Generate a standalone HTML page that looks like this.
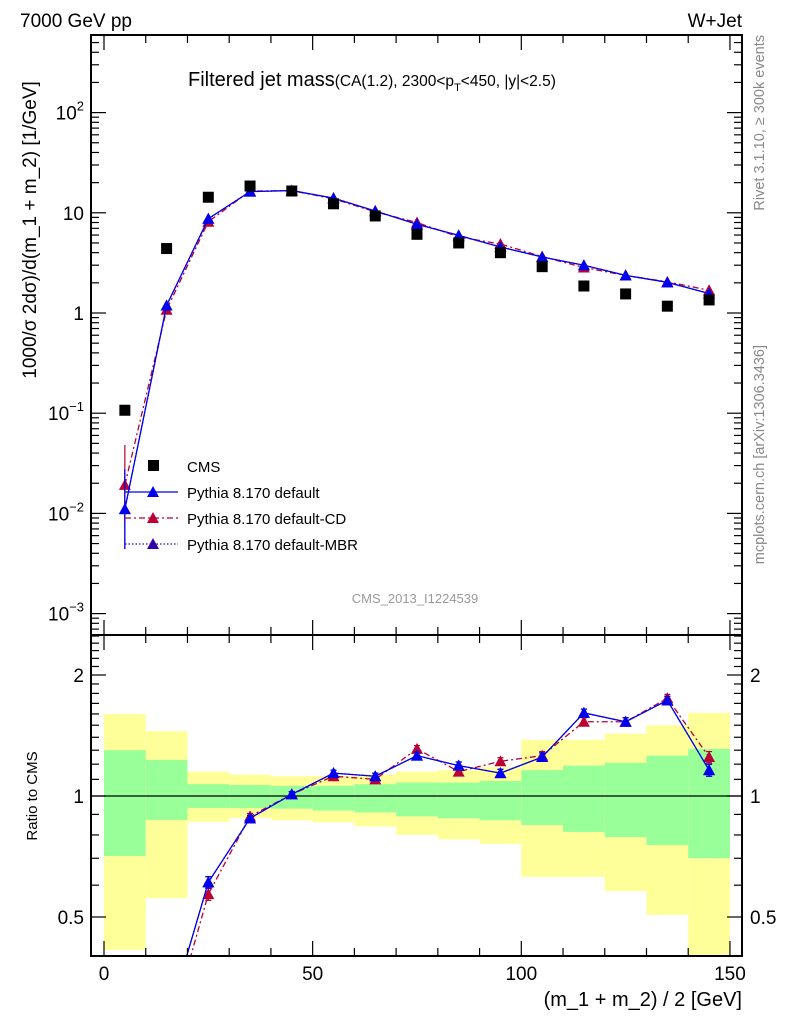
<!DOCTYPE html>
<html><head><meta charset="utf-8"><style>
html,body{margin:0;padding:0;background:#fff;overflow:hidden;width:786px;height:1024px;}
svg{display:block;font-family:"Liberation Sans",sans-serif;}
</style></head><body>
<svg id="c" width="786" height="1024" viewBox="0 0 786 1024" xmlns="http://www.w3.org/2000/svg">
<defs>
<clipPath id="mainClip"><rect x="91" y="35" width="651" height="600"/></clipPath>
<clipPath id="ratioClip"><rect x="91" y="635" width="651" height="321"/></clipPath>
</defs>
<g id="bands" clip-path="url(#ratioClip)"></g>
<g id="marks"></g>
<g id="axes"></g>
<text x="20" y="27" font-size="19">7000 GeV pp</text>
<text x="742" y="27" font-size="19" text-anchor="end">W+Jet</text>
<text x="188" y="86" font-size="20">Filtered jet mass<tspan font-size="15.5">(CA(1.2), 2300&lt;p</tspan><tspan font-size="11" dy="5">T</tspan><tspan font-size="15.5" dy="-5">&lt;450, |y|&lt;2.5)</tspan></text>
<text x="415" y="603" font-size="13" fill="#999" text-anchor="middle">CMS_2013_I1224539</text>
<text transform="translate(36,230) rotate(-90)" font-size="19" text-anchor="middle">1000/σ 2dσ)/d(m_1 + m_2) [1/GeV]</text>
<text transform="translate(37,796) rotate(-90)" font-size="15" text-anchor="middle">Ratio to CMS</text>
<text x="742" y="1006" font-size="20" text-anchor="end">(m_1 + m_2) / 2 [GeV]</text>
<text transform="translate(764,35) rotate(-90)" font-size="14.5" fill="#888" text-anchor="end">Rivet 3.1.10, ≥ 300k events</text>
<text transform="translate(764,345) rotate(-90)" font-size="14.5" fill="#888" text-anchor="end">mcplots.cern.ch [arXiv:1306.3436]</text>
<g id="legend"></g>
</svg>
<script>
const binCenters=[5,15,25,35,45,55,65,75,85,95,105,115,125,135,145];
const cmsValues=[0.107,4.4,14.3,18.5,16.5,12.3,9.3,6.1,5.0,4.0,2.9,1.86,1.55,1.17,1.35];
const ratioDefault=[0.103,0.27,0.61,0.88,1.01,1.14,1.12,1.26,1.19,1.14,1.25,1.61,1.53,1.73,1.16];
const ratioCD=[0.18,0.245,0.57,0.89,1.01,1.12,1.10,1.31,1.15,1.22,1.26,1.53,1.53,1.75,1.25];
const ratioMBR=[0.103,0.27,0.61,0.88,1.01,1.14,1.12,1.26,1.19,1.14,1.25,1.61,1.53,1.73,1.16];
const ratioErr=[0.0,0.01,0.02,0.015,0.015,0.02,0.02,0.025,0.025,0.025,0.03,0.035,0.035,0.04,0.04];
const mainErrFrac=[0.6,0.02,0.02,0.015,0.015,0.02,0.02,0.025,0.025,0.025,0.03,0.03,0.03,0.035,0.035];
const bandYellowHi=[1.60,1.45,1.15,1.13,1.12,1.12,1.13,1.15,1.16,1.18,1.38,1.38,1.43,1.50,1.61];
const bandGreenHi=[1.30,1.23,1.07,1.065,1.06,1.06,1.07,1.08,1.08,1.09,1.16,1.19,1.21,1.26,1.31];
const bandGreenLo=[0.709,0.872,0.933,0.933,0.93,0.92,0.91,0.89,0.88,0.87,0.847,0.814,0.79,0.755,0.70];
const bandYellowLo=[0.414,0.557,0.862,0.882,0.87,0.86,0.84,0.80,0.78,0.76,0.629,0.629,0.58,0.506,0.35];
const xTicks=[0,50,100,150];
const yTickExp=[-3,-2,-1,0,1,2];
const ratioTicks=[0.5,1,2];

const NS="http://www.w3.org/2000/svg";
const X=v=>104+v*4.173;
const Y=v=>313-Math.log10(v)*100.2;
const R=v=>796-Math.log2(v)*121;
function el(tag,attrs,parent){const e=document.createElementNS(NS,tag);for(const k in attrs)e.setAttribute(k,attrs[k]);parent.appendChild(e);return e;}
const bands=document.getElementById('bands'),marks=document.getElementById('marks'),axes=document.getElementById('axes'),legend=document.getElementById('legend');

binCenters.forEach((c,i)=>{
  const x0=X(c-5),w=X(c+5)-X(c-5);
  const y1=el('rect',{x:x0,y:R(bandYellowHi[i]),width:w,height:R(bandYellowLo[i])-R(bandYellowHi[i]),fill:'#ffff99'},bands);
  
  
  const g1=el('rect',{x:x0,y:R(bandGreenHi[i]),width:w,height:R(bandGreenLo[i])-R(bandGreenHi[i]),fill:'#99ff99'},bands);
  
  
});
el('line',{x1:91,x2:742,y1:R(1),y2:R(1),stroke:'#000','stroke-width':1.3},bands);

const mg=el('g',{'clip-path':'url(#mainClip)'},marks);
const rg=el('g',{'clip-path':'url(#ratioClip)'},marks);
function tri(p,x,y,col,name){
  const t=el('path',{d:`M${x-6},${y+5}L${x+6},${y+5}L${x},${y-6}Z`,fill:col},p);
  
  
}
const series=[
 {r:ratioDefault,col:'#0000ee',dash:'',name:'default'},
 {r:ratioCD,col:'#bb0033',dash:'6,3,2,3',name:'cd'},
 {r:ratioMBR,col:'#3300aa',dash:'1.5,2',name:'mbr'}];
[series[2],series[1],series[0]].forEach(s=>{
  const mainPts=binCenters.map((c,i)=>[X(c),Y(s.r[i]*cmsValues[i])]);
  const ratioPts=binCenters.map((c,i)=>[X(c),R(s.r[i])]);
  const l1=el('polyline',{points:mainPts.join(' '),fill:'none',stroke:s.col,'stroke-width':1.3,'stroke-dasharray':s.dash},mg);
  
  
  const l2=el('polyline',{points:ratioPts.join(' '),fill:'none',stroke:s.col,'stroke-width':1.3,'stroke-dasharray':s.dash},rg);
  
  
  binCenters.forEach((c,i)=>{
    const m=s.r[i]*cmsValues[i], f=mainErrFrac[i], e=ratioErr[i];
    const x=X(c);
    if(f>0.05){
      el('line',{x1:x,x2:x,y1:Y(m/(1-f)),y2:Y(m*(1-f)),stroke:s.col,'stroke-width':1.2},mg);
    } else {
      el('line',{x1:x,x2:x,y1:Y(m*(1+f)),y2:Y(m*(1-f)),stroke:s.col,'stroke-width':1.2},mg);
    }
    if(e>0){
      el('line',{x1:x,x2:x,y1:R(s.r[i]+e),y2:R(s.r[i]-e),stroke:s.col,'stroke-width':1.2},rg);
      el('line',{x1:x-3,x2:x+3,y1:R(s.r[i]+e),y2:R(s.r[i]+e),stroke:s.col,'stroke-width':1.2},rg);
      el('line',{x1:x-3,x2:x+3,y1:R(s.r[i]-e),y2:R(s.r[i]-e),stroke:s.col,'stroke-width':1.2},rg);
    }
    tri(mg,x,Y(m),s.col,'marker-'+s.name+'-'+c);
    tri(rg,x,R(s.r[i]),s.col,'ratio-marker-'+s.name+'-'+c);
  });
});
binCenters.forEach((c,i)=>{
  const r=el('rect',{x:X(c)-5.5,y:Y(cmsValues[i])-5.5,width:11,height:11,fill:'#000'},mg);
  
  
});

// axes
el('rect',{x:91,y:35,width:651,height:921,fill:'none',stroke:'#000','stroke-width':2},axes);
el('line',{x1:91,x2:742,y1:635,y2:635,stroke:'#000','stroke-width':2},axes);
for(let v=0;v<=150;v+=10){
  const x=X(v),maj=v%50===0;
  el('line',{x1:x,x2:x,y1:35,y2:35+(maj?15:8),stroke:'#000','stroke-width':1.2},axes);
  el('line',{x1:x,x2:x,y1:635,y2:635-(maj?15:8),stroke:'#000','stroke-width':1.2},axes);
  el('line',{x1:x,x2:x,y1:635,y2:635+(maj?15:8),stroke:'#000','stroke-width':1.2},axes);
  el('line',{x1:x,x2:x,y1:956,y2:956-(maj?15:8),stroke:'#000','stroke-width':1.2},axes);
}
xTicks.forEach(v=>{
  const t=el('text',{x:X(v),y:980,'font-size':19,'text-anchor':'middle'},axes);t.textContent=v;
  
  
});
for(let e=-4;e<=2;e++){for(let k=1;k<10;k++){
  const y=Y(k*Math.pow(10,e));if(y<35||y>635)continue;
  const L=k===1?15:8;
  el('line',{x1:91,x2:91+L,y1:y,y2:y,stroke:'#000','stroke-width':1.2},axes);
  el('line',{x1:742,x2:742-L,y1:y,y2:y,stroke:'#000','stroke-width':1.2},axes);
}}
yTickExp.forEach(e=>{
  const y=Y(Math.pow(10,e));
  const t=el('text',{'font-size':19,'text-anchor':'end',x:84,y:y+7},axes);
  
  
  if(e===0){t.textContent='1';}
  else if(e===1){t.textContent='10';}
  else{t.innerHTML='10<tspan font-size="13" dy="-9">'+(e<0?'−'+(-e):e)+'</tspan>';}
});
[0.4,0.5,0.6,0.7,0.8,0.9,1,1.1,1.2,1.3,1.4,1.5,1.6,1.7,1.8,1.9,2,2.1,2.2,2.3,2.4,2.5].forEach(v=>{
  const y=R(v);if(y<635||y>956)return;
  const L=ratioTicks.includes(v)?15:8;
  el('line',{x1:91,x2:91+L,y1:y,y2:y,stroke:'#000','stroke-width':1.2},axes);
  el('line',{x1:742,x2:742-L,y1:y,y2:y,stroke:'#000','stroke-width':1.2},axes);
});
ratioTicks.forEach(v=>{
  const a=el('text',{x:84,y:R(v)+7,'font-size':19,'text-anchor':'end'},axes);a.textContent=v;
  
  
  const b=el('text',{x:750,y:R(v)+7,'font-size':19},axes);b.textContent=v;
  
  
});

// legend
const legItems=[['CMS','#000','sq',''],['Pythia 8.170 default','#0000ee','tri',''],['Pythia 8.170 default-CD','#bb0033','tri','6,3,2,3'],['Pythia 8.170 default-MBR','#3300aa','tri','1.5,2']];
legItems.forEach((it,i)=>{
  const y=466+i*26;
  if(it[2]==='sq'){el('rect',{x:148,y:y-6,width:11,height:11,fill:'#000'},legend);}
  else{el('line',{x1:125,x2:178,y1:y,y2:y,stroke:it[1],'stroke-width':1.3,'stroke-dasharray':it[3]},legend);tri(legend,153,y,it[1],'legend-marker');}
  const t=el('text',{x:187,y:y+6,'font-size':15},legend);t.textContent=it[0];
  
  
});
</script>
</body></html>
